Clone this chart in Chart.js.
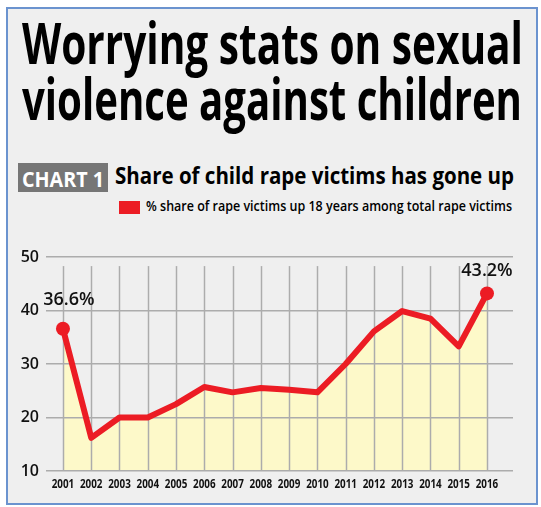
<!DOCTYPE html>
<html>
<head>
<meta charset="utf-8">
<script src="https://cdn.jsdelivr.net/npm/chart.js@4/dist/chart.umd.min.js"></script>
<style>
  html, body { margin: 0; padding: 0; background: #fff; }
  body { width: 541px; height: 507px; position: relative; overflow: hidden; font-family: "Open Sans", sans-serif; }
  #frame {
    position: absolute; left: 6px; top: 7px; width: 528px; height: 494px;
    background: #efefef; border: 2px solid #6b93cf;
  }
  .fit { position: absolute; white-space: nowrap; line-height: 1; transform-origin: 0 0; color: #000; }
  .title { font-size: 58px; font-weight: 700; }
  #t1 { left: 22px; top: 13px; }
  #t2 { left: 22px; top: 69px; }
  #tag {
    position: absolute; left: 18px; top: 163px; width: 90px; height: 29px;
    background: #767676;
  }
  #tagText { left: 22px; top: 167px; font-size: 22px; font-weight: 700; color: #fff; }
  #sub { left: 115px; top: 163px; font-size: 24px; font-weight: 700; }
  #key { position: absolute; left: 119px; top: 201px; width: 21px; height: 13px; background: #ec1c24; }
  #keyText { left: 146px; top: 198px; font-size: 15px; font-weight: 600; }
  #chart { position: absolute; left: 0; top: 230px; }
</style>
</head>
<body>
<div id="frame"></div>
<div class="fit title" id="t1" data-w="501">Worrying stats on sexual</div>
<div class="fit title" id="t2" data-w="500">violence against children</div>
<div id="tag"></div>
<div class="fit" id="tagText" data-w="82">CHART 1</div>
<div class="fit" id="sub" data-w="399">Share of child rape victims has gone up</div>
<div id="key"></div>
<div class="fit" id="keyText" data-w="366">% share of rape victims up 18 years among total rape victims</div>
<canvas id="chart" width="541" height="277"></canvas>
<script>
// share of rape victims under 18, per year
const years = [2001, 2002, 2003, 2004, 2005, 2006, 2007, 2008,
               2009, 2010, 2011, 2012, 2013, 2014, 2015, 2016];
const shares = [36.6, 16.2, 20.0, 20.0, 22.5, 25.7, 24.7, 25.5,
                25.2, 24.7, 30.0, 36.1, 39.9, 38.5, 33.3, 43.2];
const yTicks = [10, 20, 30, 40, 50];

// squeeze headline text into its column
function fitText() {
  document.querySelectorAll('.fit').forEach(el => {
    const w = +el.dataset.w;
    el.style.transform = 'none';
    const nat = el.getBoundingClientRect().width;
    el.style.transform = 'scaleX(' + (w / nat) + ')';
  });
}
fitText();
if (document.fonts) document.fonts.ready.then(fitText);

const gridColor = '#acacac';
const last = shares.length - 1;

// vertical year lines stop a little short of the top line
const yearLines = {
  id: 'yearLines',
  beforeDatasetsDraw(chart) {
    const ctx = chart.ctx;
    const xs = chart.scales.x, ys = chart.scales.y;
    const top = ys.getPixelForValue(48.3);
    const bottom = ys.getPixelForValue(yTicks[0]);
    ctx.save();
    ctx.strokeStyle = gridColor;
    ctx.lineWidth = 1.5;
    years.forEach(yr => {
      const px = Math.round(xs.getPixelForValue(yr)) + 0.5;
      ctx.beginPath();
      ctx.moveTo(px, top);
      ctx.lineTo(px, bottom);
      ctx.stroke();
    });
    ctx.restore();
  }
};

// percentage labels over the first and last points
const endLabels = {
  id: 'endLabels',
  afterDatasetsDraw(chart) {
    const { ctx } = chart;
    const pts = chart.getDatasetMeta(0).data;
    ctx.save();
    ctx.font = '600 18px "Open Sans", sans-serif';
    ctx.fillStyle = '#111';
    ctx.textAlign = 'center';
    ctx.textBaseline = 'alphabetic';
    [0, last].forEach(i => {
      const p = pts[i];
      const dx = i === 0 ? 6 : 0;
      const dy = i === 0 ? 24 : 17;
      ctx.fillText(shares[i].toFixed(1) + '%', p.x + dx, p.y - dy);
    });
    ctx.restore();
  }
};

// year labels, set a little narrower than the font so they keep apart
const yearLabels = {
  id: 'yearLabels',
  afterDraw(chart) {
    const { ctx } = chart;
    const xs = chart.scales.x;
    ctx.save();
    ctx.font = '700 12px "Open Sans", sans-serif';
    ctx.fillStyle = '#111';
    ctx.textAlign = 'center';
    ctx.textBaseline = 'top';
    xs.ticks.forEach((t, i) => {
      const px = xs.getPixelForTick(i);
      ctx.save();
      ctx.translate(px, xs.top + 8);
      ctx.scale(0.82, 1);
      ctx.fillText(String(t.value), 0, 0);
      ctx.restore();
    });
    ctx.restore();
  }
};

new Chart(document.getElementById('chart'), {
  type: 'line',
  data: {
    datasets: [{
      label: '% share of rape victims up 18 years among total rape victims',
      data: years.map((yr, i) => ({ x: yr, y: shares[i] })),
      borderColor: '#ec1c24',
      backgroundColor: '#fdf9c9',
      borderWidth: 6,
      borderJoinStyle: 'round',
      borderCapStyle: 'round',
      fill: 'start',
      tension: 0,
      pointRadius: ctx => (ctx.dataIndex === 0 || ctx.dataIndex === last) ? 7 : 0,
      pointBackgroundColor: '#ec1c24',
      pointBorderWidth: 0
    }]
  },
  options: {
    responsive: false,
    animation: false,
    events: [],
    layout: { padding: { left: 0, right: 28, top: 27, bottom: 0 } },
    plugins: {
      legend: { display: false },
      tooltip: { enabled: false },
      filler: { drawTime: 'beforeDraw' }
    },
    scales: {
      x: {
        type: 'linear',
        min: 2000.4,
        max: 2016.92,
        afterFit: s => { s.height = 36; },
        afterBuildTicks: s => { s.ticks = years.map(v => ({ value: v })); },
        grid: { display: false },
        border: { display: false },
        ticks: { display: false }
      },
      y: {
        min: yTicks[0],
        max: yTicks[yTicks.length - 1],
        afterFit: s => { s.width = 46; },
        afterBuildTicks: s => { s.ticks = yTicks.map(v => ({ value: v })); },
        grid: { color: gridColor, lineWidth: 1.5, drawTicks: false },
        border: { display: false },
        ticks: {
          padding: 7,
          color: '#111',
          font: { family: '"Open Sans", sans-serif', size: 16, weight: '600' }
        }
      }
    }
  },
  plugins: [yearLines, endLabels, yearLabels]
});
</script>
</body>
</html>
